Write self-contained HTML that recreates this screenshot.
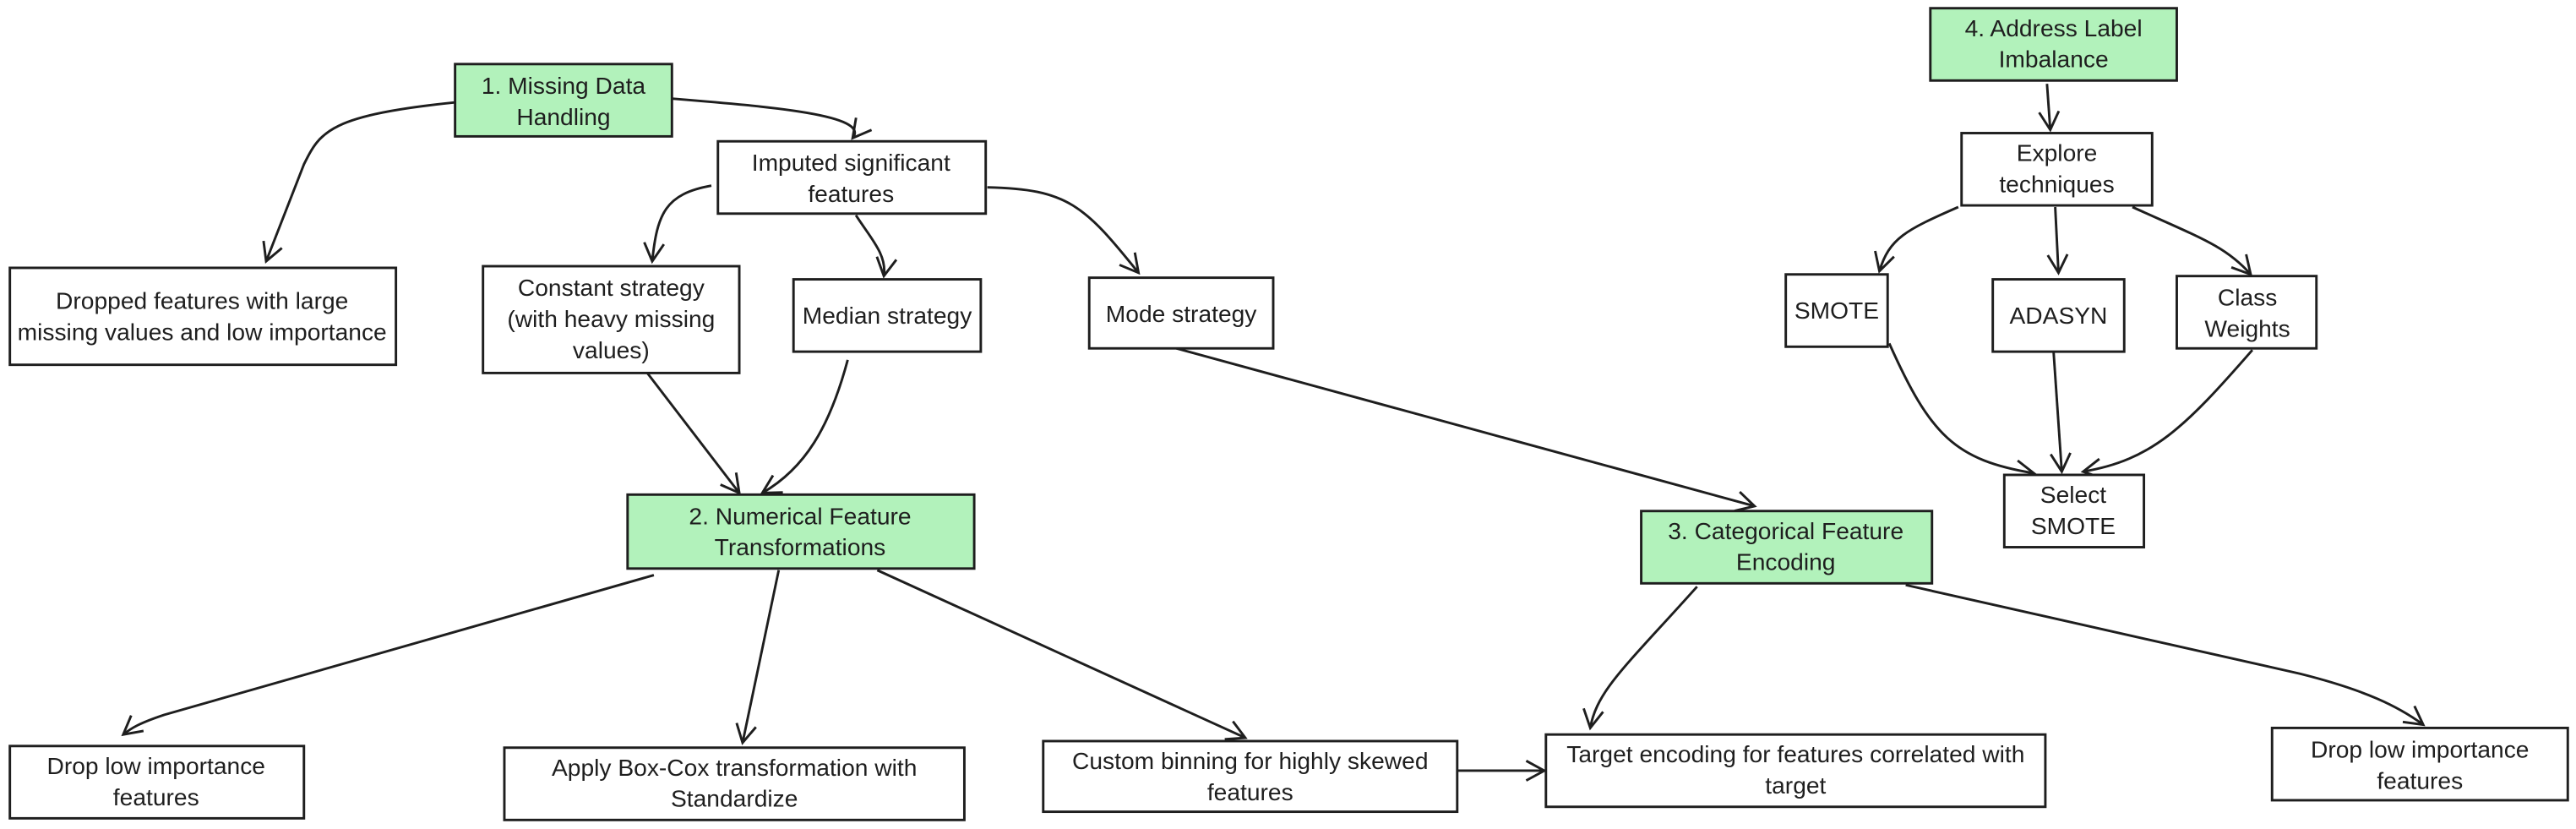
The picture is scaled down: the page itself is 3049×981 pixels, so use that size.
<!DOCTYPE html>
<html><head><meta charset="utf-8"><style>
html,body{margin:0;padding:0;background:#fff;}
svg{display:block;}
text{font-family:"Liberation Sans",sans-serif;font-size:14.5px;fill:#1e1e1e;text-anchor:middle;}
rect{stroke:#1e1e1e;stroke-width:1.5;}
.w{fill:#fff;} .g{fill:#b2f2bb;}
path{fill:none;stroke:#1e1e1e;stroke-width:1.5;}
</style></head><body>
<svg width="3049" height="981" viewBox="0 0 1568 504.5" xmlns="http://www.w3.org/2000/svg">
<defs><marker id="a" markerWidth="14" markerHeight="14" refX="12" refY="7" orient="auto" markerUnits="userSpaceOnUse"><path d="M1,1 L12,7 L1,13"/></marker></defs>
<g marker-end="url(#a)">
<path d="M280,62 C200,70 195,80 185,100 L162,159"/>
<path d="M409,60 C470,65 530,70 519,84"/>
<path d="M433,113 C405,118 400,130 397,159"/>
<path d="M521,131 C530,145 540,155 538,168"/>
<path d="M601,114 C650,115 660,125 693,166"/>
<path d="M394,227 L450,300"/>
<path d="M516,219 C505,260 490,285 464,300"/>
<path d="M716,212 L1068,308"/>
<path d="M398,350 L100,435 C85,440 80,443 75,447"/>
<path d="M474,347 L452,452"/>
<path d="M534,347 L758,449"/>
<path d="M887,469 L940,469"/>
<path d="M1033,357 C990,405 972,420 968,443"/>
<path d="M1160,356 L1400,410 C1440,420 1460,430 1475,441"/>
<path d="M1246,51 L1248,79"/>
<path d="M1192,126 C1160,140 1150,145 1144,165"/>
<path d="M1251,126 L1253,166"/>
<path d="M1298,126 C1340,145 1355,150 1370,167"/>
<path d="M1150,209 C1175,265 1190,280 1238,288"/>
<path d="M1250,214 L1255,287"/>
<path d="M1371,213 C1330,260 1310,280 1268,287"/>
</g>
<rect class="g" x="277" y="39" width="132" height="44"/><text x="343" y="57">1. Missing Data</text><text x="343" y="76">Handling</text>
<rect class="w" x="437" y="86" width="163" height="44"/><text x="518" y="104">Imputed significant</text><text x="518" y="123">features</text>
<rect class="w" x="6" y="163" width="235" height="59"/><text x="123" y="188">Dropped features with large</text><text x="123" y="207">missing values and low importance</text>
<rect class="w" x="294" y="162" width="156" height="65"/><text x="372" y="180">Constant strategy</text><text x="372" y="199">(with heavy missing</text><text x="372" y="218">values)</text>
<rect class="w" x="483" y="170" width="114" height="44"/><text x="540" y="197">Median strategy</text>
<rect class="w" x="663" y="169" width="112" height="43"/><text x="719" y="196">Mode strategy</text>
<rect class="g" x="382" y="301" width="211" height="45"/><text x="487" y="319">2. Numerical Feature</text><text x="487" y="338">Transformations</text>
<rect class="g" x="999" y="311" width="177" height="44"/><text x="1087" y="328">3. Categorical Feature</text><text x="1087" y="347">Encoding</text>
<rect class="g" x="1175" y="5" width="150" height="44"/><text x="1250" y="22">4. Address Label</text><text x="1250" y="41">Imbalance</text>
<rect class="w" x="1194" y="81" width="116" height="44"/><text x="1252" y="98">Explore</text><text x="1252" y="117">techniques</text>
<rect class="w" x="1087" y="167" width="62" height="44"/><text x="1118" y="194">SMOTE</text>
<rect class="w" x="1213" y="170" width="80" height="44"/><text x="1253" y="197">ADASYN</text>
<rect class="w" x="1325" y="168" width="85" height="44"/><text x="1368" y="186">Class</text><text x="1368" y="205">Weights</text>
<rect class="w" x="1220" y="289" width="85" height="44"/><text x="1262" y="306">Select</text><text x="1262" y="325">SMOTE</text>
<rect class="w" x="6" y="454" width="179" height="44"/><text x="95" y="471">Drop low importance</text><text x="95" y="490">features</text>
<rect class="w" x="307" y="455" width="280" height="44"/><text x="447" y="472">Apply Box-Cox transformation with</text><text x="447" y="491">Standardize</text>
<rect class="w" x="635" y="451" width="252" height="43"/><text x="761" y="468">Custom binning for highly skewed</text><text x="761" y="487">features</text>
<rect class="w" x="941" y="447" width="304" height="44"/><text x="1093" y="464">Target encoding for features correlated with</text><text x="1093" y="483">target</text>
<rect class="w" x="1383" y="443" width="180" height="44"/><text x="1473" y="461">Drop low importance</text><text x="1473" y="480">features</text>
</svg>
</body></html>
